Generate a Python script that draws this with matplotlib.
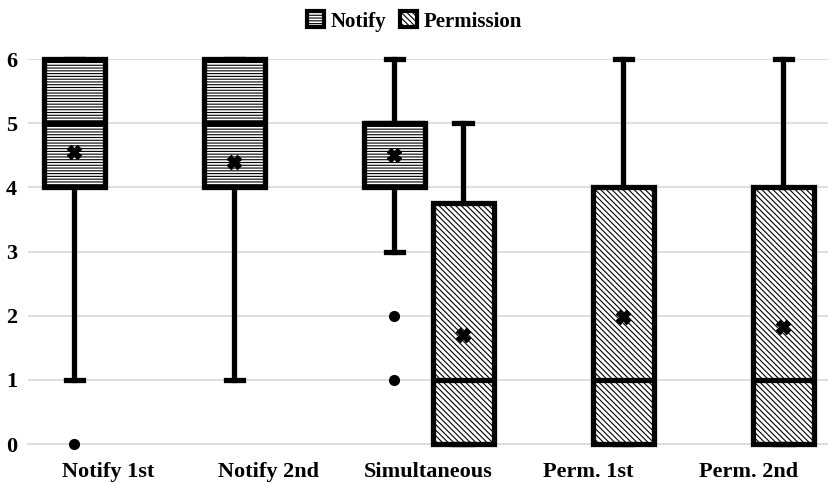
import matplotlib
matplotlib.use("Agg")
import matplotlib.pyplot as plt
from matplotlib.patches import Patch

plt.rcParams['hatch.linewidth'] = 0.8
plt.rcParams['font.family'] = ['Liberation Serif', 'DejaVu Serif']

categories = ['Notify 1st', 'Notify 2nd', 'Simultaneous', 'Perm. 1st', 'Perm. 2nd']

# Notify series (categories 0,1,2)
notify_idx = [0, 1, 2]
notify_q1 = [4, 4, 4]
notify_med = [5, 5, 5]
notify_q3 = [6, 6, 5]
notify_lo = [1, 1, 3]
notify_hi = [6, 6, 6]
notify_mean = [4.55, 4.4, 4.5]
notify_fliers = [[0], [], [2, 1]]

# Permission series (categories 2,3,4)
perm_idx = [2, 3, 4]
perm_q1 = [0, 0, 0]
perm_med = [1, 1, 1]
perm_q3 = [3.75, 4, 4]
perm_lo = [0, 0, 0]
perm_hi = [5, 6, 6]
perm_mean = [1.7, 1.98, 1.82]
perm_fliers = [[], [], []]

series_names = ['Notify', 'Permission']
hatches = ['------', '\\\\\\\\\\\\']

fig = plt.figure(figsize=(8.29, 4.84), dpi=100)
ax = fig.add_axes([28/829, 1-444/484, 1-28/829-0.001, (444-59)/484])

def stats(q1, med, q3, lo, hi, mean, fl):
    return [dict(q1=a, med=b, q3=c, whislo=d, whishi=e, mean=f, fliers=g)
            for a, b, c, d, e, f, g in zip(q1, med, q3, lo, hi, mean, fl)]

lw = 3.8
common = dict(widths=0.38, capwidths=0.11, patch_artist=True, showmeans=True,
              manage_ticks=False, zorder=3,
              boxprops=dict(edgecolor='black', facecolor='white', linewidth=lw),
              medianprops=dict(color='black', linewidth=lw, solid_capstyle='butt'),
              whiskerprops=dict(color='black', linewidth=lw),
              capprops=dict(color='black', linewidth=lw),
              meanprops=dict(marker='X', markerfacecolor='black', markeredgecolor='black', markersize=10),
              flierprops=dict(marker='o', markerfacecolor='black', markeredgecolor='black', markersize=7))

b1 = ax.bxp(stats(notify_q1, notify_med, notify_q3, notify_lo, notify_hi, notify_mean, notify_fliers),
            positions=[i - 0.21 for i in notify_idx], **common)
b2 = ax.bxp(stats(perm_q1, perm_med, perm_q3, perm_lo, perm_hi, perm_mean, perm_fliers),
            positions=[i + 0.22 for i in perm_idx], **common)
for b, h in zip([b1, b2], hatches):
    for p in b['boxes']:
        p.set_hatch(h)
        p.set_clip_on(False)
    for k in ['medians', 'whiskers', 'caps', 'fliers', 'means']:
        for l in b[k]:
            l.set_clip_on(False)

ax.set_xlim(-0.5, len(categories) - 0.5)
ax.set_ylim(0, 6)
ax.set_yticks(range(0, 7))
ax.set_xticks(range(len(categories)))
ax.set_xticklabels(categories)
for lab in ax.get_xticklabels() + ax.get_yticklabels():
    lab.set_fontweight('bold')
    lab.set_fontsize(16)
ax.tick_params(axis='both', length=0)
ax.tick_params(axis='x', pad=13)
ax.tick_params(axis='y', pad=8)
ax.yaxis.grid(True, color='#d9d9d9', linewidth=1.2)
ax.set_axisbelow(True)
for s in ['top', 'right', 'left']:
    ax.spines[s].set_visible(False)
ax.spines['bottom'].set_color('#d9d9d9')
ax.spines['bottom'].set_linewidth(1.2)

handles = [Patch(facecolor='white', edgecolor='black', hatch=h, linewidth=3, label=n)
           for n, h in zip(series_names, hatches)]
fig.legend(handles=handles, loc='upper center', bbox_to_anchor=(0.5, 1.015), ncol=2, frameon=False,
           prop=dict(weight='bold', size=15), handlelength=0.8, handleheight=0.8,
           handletextpad=0.3, columnspacing=0.7)

fig.savefig('out.png', dpi=100)
